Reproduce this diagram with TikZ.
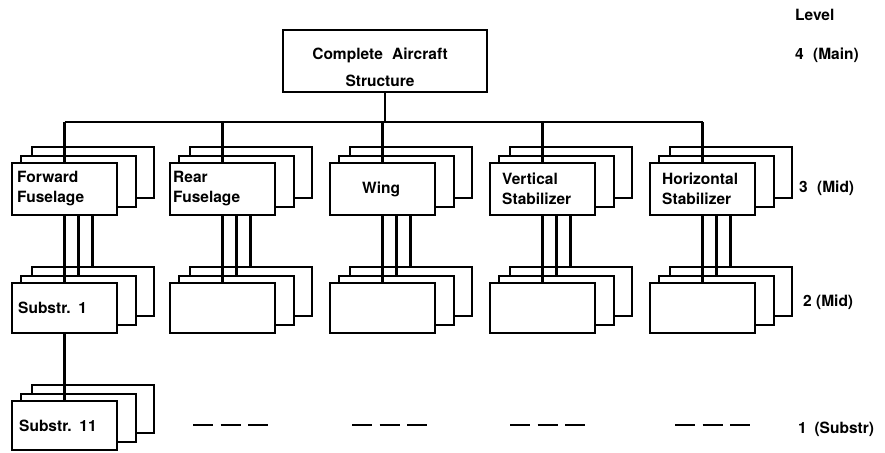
\documentclass[tikz,border=0pt]{standalone}
\usepackage{fontspec}
\setmainfont{TeX Gyre Heros}
\begin{document}
% Three stacked sheets: back, middle, front (front one carries the name #1)
\newcommand\partstack[4]{%
  \node[backsheet, minimum height={#4-1}] (#1-c) at ({#2+20},{#3-16}) {};
  \node[midsheet,  minimum height={#4-1}] (#1-b) at ({#2+9},{#3-7}) {};
  \node[frontsheet, minimum height=#4] (#1) at (#2,#3) {};
}
\begin{tikzpicture}[x=1pt,y=-1pt,
  every node/.style={font=\fontsize{15.5}{20}\selectfont\bfseries},
  sheet/.style={draw, line width=2.1pt, fill=white, rectangle,
                inner sep=0pt, outer sep=0pt, anchor=north west},
  frontsheet/.style={sheet, minimum width=105pt},
  midsheet/.style={sheet, minimum width=115pt},
  backsheet/.style={sheet, minimum width=122pt},
  txt/.style={inner sep=0pt, align=left, anchor=west},
  link/.style={line width=2.1pt},
  gap/.style={line width=2.6pt, dash pattern=on 20pt off 7.5pt},
]
\useasboundingbox (0,0) rectangle (885,452);

% level 4
\node[sheet, minimum width=204pt, minimum height=62pt] (ca) at (283,30) {};
\node[align=center, inner sep=0pt] (ca-t) at (380,67)
  {Complete\hspace{0.6em}Aircraft\\[7pt]Structure};

% level 3
\partstack{fw}{12}{163}{52}
\partstack{rf}{170}{163}{52}
\partstack{wg}{330}{163}{52}
\partstack{vs}{490}{163}{52}
\partstack{hs}{650}{163}{52}
\node[txt] (fw-t) at ([xshift=5]fw.west) {Forward\\Fuselage};
\node[txt] (rf-t) at ([xshift=3]rf.west) {Rear\\Fuselage};
\node[txt] (wg-t) at ([xshift=32]wg.west) {Wing};
\node[txt] (vs-t) at ([xshift=12]vs.west) {Vertical\\Stabilizer};
\node[txt] (hs-t) at ([xshift=12]hs.west) {Horizontal\\Stabilizer};

% level 2
\partstack{fw2}{12}{283}{50}
\partstack{rf2}{170}{283}{50}
\partstack{wg2}{330}{283}{50}
\partstack{vs2}{490}{283}{50}
\partstack{hs2}{650}{283}{50}
\node[txt] (fw2-t) at ([xshift=6]fw2.west) {Substr.\hspace{0.5em}1};

% level 1
\partstack{fw1}{12}{401}{49}
\node[txt] (fw1-t) at ([xshift=7]fw1.west) {Substr.\hspace{0.5em}11};

% bus from the main structure to the components
\coordinate (bus) at (385,122);
\draw[link] (ca.south) -- (ca.south |- bus);
\draw[link] (fw.north |- bus) -- (hs.north |- bus);
\foreach \c in {fw,rf,wg,vs,hs} {
  \draw[link] (\c.north |- bus) -- (\c.north);
  \draw[link] (\c.south) -- (\c.south |- \c2.north);
  \draw[link] ([xshift=14]\c.south) -- ([xshift=14]\c.south |- \c2-b.north);
  \draw[link] ([xshift=28]\c.south) -- ([xshift=28]\c.south |- \c2-c.north);
}
\draw[link] (fw2.south) -- (fw1.north);

% further substructures
\foreach \x in {193,352,510,675} \draw[gap] (\x,425) -- ++(75,0);

% level legend
\node[txt] (lvl) at (795,15) {Level};
\node[txt] (l4) at (795,55) {4\hspace{0.6em}(Main)};
\node[txt] (l3) at (799,188) {3\hspace{0.6em}(Mid)};
\node[txt] (l2) at (803,302) {2 (Mid)};
\node[txt] (l1) at (798,429) {1\hspace{0.5em}(Substr)};
\end{tikzpicture}
\end{document}
